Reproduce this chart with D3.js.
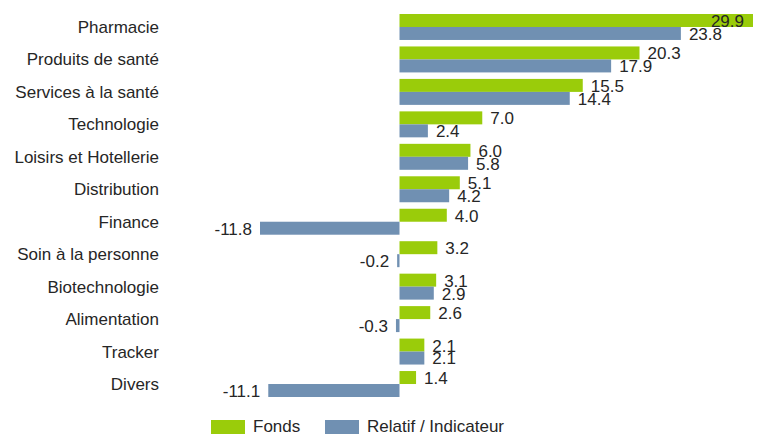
<!DOCTYPE html>
<html>
<head>
<meta charset="utf-8">
<script src="https://cdn.jsdelivr.net/npm/d3@7"></script>
<style>
  body { margin: 0; background: #fff; }
  text { font-family: "Liberation Sans", Arial, sans-serif; fill: #262626; }
</style>
</head>
<body>
<div id="chart"></div>
<script>
var svgWidth = 767;
var svgHeight = 436;

// data
var categories = ["Pharmacie", "Produits de santé", "Services à la santé", "Technologie",
  "Loisirs et Hotellerie", "Distribution", "Finance", "Soin à la personne",
  "Biotechnologie", "Alimentation", "Tracker", "Divers"];
var fonds = [29.9, 20.3, 15.5, 7.0, 6.0, 5.1, 4.0, 3.2, 3.1, 2.6, 2.1, 1.4];
var relatif = [23.8, 17.9, 14.4, 2.4, 5.8, 4.2, -11.8, -0.2, 2.9, -0.3, 2.1, -11.1];
var seriesNames = ["Fonds", "Relatif / Indicateur"];
var colors = ["#9acc0a", "#7090b2"];

var svg = d3.select("#chart")
  .append("svg")
  .attr("width", svgWidth)
  .attr("height", svgHeight);

// x scale: -11.8 -> 260px, 29.9 -> 753px (zero lands near 399)
var xScale = d3.scaleLinear()
  .domain([d3.min(relatif), d3.max(fonds)])
  .range([260, 753]);

var yScale = d3.scaleBand()
  .domain(categories)
  .range([14, 397])
  .paddingInner(0.2)
  .paddingOuter(0);

var subScale = d3.scaleBand()
  .domain([0, 1])
  .range([0, yScale.bandwidth()]);

var rows = categories.map(function(c, i) {
  return { cat: c, values: [fonds[i], relatif[i]] };
});

// category labels
svg.selectAll(".catLabel")
  .data(categories)
  .enter()
  .append("text")
  .attr("class", "catLabel")
  .attr("x", 159)
  .attr("y", d => yScale(d) + yScale.bandwidth() / 2)
  .attr("dy", "0.35em")
  .attr("text-anchor", "end")
  .attr("font-size", 17)
  .text(d => d);

var groups = svg.selectAll(".row")
  .data(rows)
  .enter()
  .append("g")
  .attr("transform", d => `translate(0, ${yScale(d.cat)})`);

var bars = groups.selectAll("rect")
  .data(d => d.values.map((v, k) => ({ v: v, k: k })))
  .enter();

bars.append("rect")
  .attr("x", d => xScale(Math.min(0, d.v)))
  .attr("y", d => subScale(d.k))
  .attr("width", d => Math.max(1, Math.abs(xScale(d.v) - xScale(0))))
  .attr("height", subScale.bandwidth())
  .attr("fill", d => colors[d.k]);

// value labels, pulled inside when they would run off the right edge
bars.append("text")
  .attr("y", d => subScale(d.k) + subScale.bandwidth() / 2)
  .attr("dy", "0.38em")
  .attr("font-size", 17)
  .attr("x", function(d) {
    if (d.v < 0) return xScale(d.v) - 8;
    if (xScale(d.v) + 45 > svgWidth) return xScale(d.v) - 9;
    return xScale(d.v) + 8;
  })
  .attr("text-anchor", function(d) {
    if (d.v < 0) return "end";
    if (xScale(d.v) + 45 > svgWidth) return "end";
    return "start";
  })
  .text(d => d.v.toFixed(1));

// legend
var legend = svg.selectAll(".legend")
  .data(seriesNames)
  .enter()
  .append("g")
  .attr("class", "legend")
  .attr("transform", (d, i) => `translate(${i === 0 ? 211 : 325}, 420)`);

legend.append("rect")
  .attr("width", 34)
  .attr("height", 14)
  .attr("fill", (d, i) => colors[i]);

legend.append("text")
  .attr("x", 42)
  .attr("y", 12)
  .attr("font-size", 17)
  .text(d => d);
</script>
</body>
</html>
